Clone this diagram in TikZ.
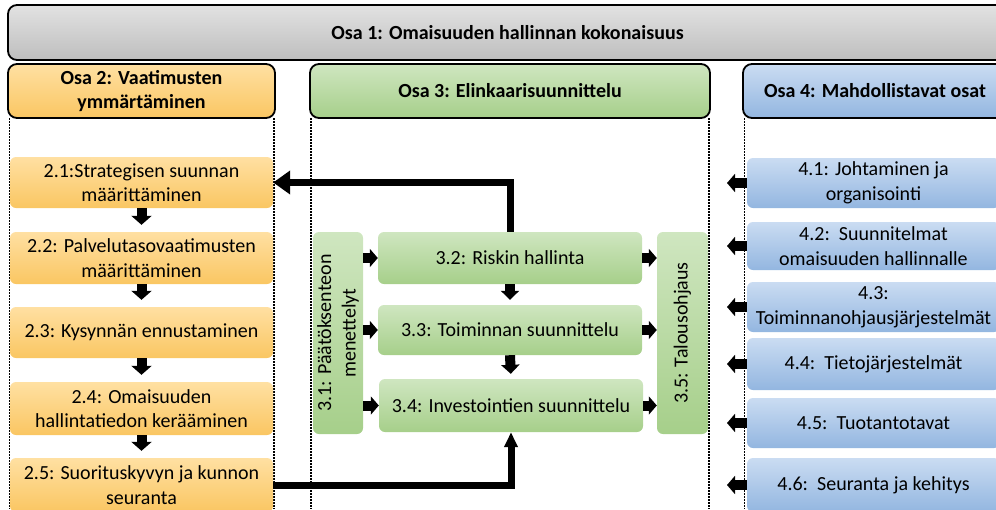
\documentclass[tikz,border=0pt]{standalone}
\usepackage{fontspec}
\setmainfont{Carlito}
\usetikzlibrary{arrows.meta}
\definecolor{or1}{HTML}{FFE0A2}
\definecolor{or2}{HTML}{FAC662}
\definecolor{gr1}{HTML}{CFE6C0}
\definecolor{gr2}{HTML}{A6CF8A}
\definecolor{bl1}{HTML}{CADCF2}
\definecolor{bl2}{HTML}{93B6E0}
\definecolor{gy1}{HTML}{E2E2E2}
\definecolor{gy2}{HTML}{BEBEBE}
\newcommand{\fsz}{\fontsize{20}{24.5}\selectfont}
\tikzset{
  base/.style={rounded corners=6pt, inner sep=0pt, align=center, font=\fsz},
  obox/.style={base, top color=or1, bottom color=or2},
  gbox/.style={base, top color=gr1, bottom color=gr2},
  bbox/.style={base, top color=bl1, bottom color=bl2},
  hdr/.style={rounded corners=9pt, draw=black, line width=1.8pt, inner sep=0pt, align=center, font=\fsz\bfseries},
  dots/.style={line width=1.7pt, dash pattern=on 2pt off 1pt},
  sarrow/.style={line width=10pt, -{Triangle[length=9pt,width=20pt]}},
  harrow/.style={line width=10pt, -{Triangle[length=8pt,width=18pt]}},
  bigline/.style={line width=7pt}
}
\begin{document}
\begin{tikzpicture}[x=1pt,y=-1pt]
\useasboundingbox (0,0) rectangle (996,509);
\clip (0,0) rectangle (996,509);
% banner and headers
\node[hdr, top color=gy1, bottom color=gy2, minimum width=999pt, minimum height=55pt] (osa1) at (507.5,32.5) {Osa 1: Omaisuuden hallinnan kokonaisuus};
\node[hdr, top color=or1, bottom color=or2, minimum width=267pt, minimum height=54pt] (osa2) at (141.5,91) {Osa 2: Vaatimusten\\ymmärtäminen};
\node[hdr, top color=gr1, bottom color=gr2, minimum width=400pt, minimum height=54pt] (osa3) at (510,91) {Osa 3: Elinkaarisuunnittelu};
\node[hdr, top color=bl1, bottom color=bl2, minimum width=264pt, minimum height=54pt] (osa4) at (875,91) {Osa 4: Mahdollistavat osat};
% dotted column borders
\coordinate (d2a) at (9.5,118); \coordinate (d2b) at (9.5,509);
\coordinate (d2c) at (274,118); \coordinate (d2d) at (274,509);
\coordinate (d3a) at (311,118); \coordinate (d3b) at (311,509);
\coordinate (d3c) at (709,118); \coordinate (d3d) at (709,509);
\coordinate (d4a) at (744.5,118); \coordinate (d4b) at (744.5,509);
\draw[dots] (d2a) -- (d2b);
\draw[dots] (d2c) -- (d2d);
\draw[dots] (d3a) -- (d3b);
\draw[dots] (d3c) -- (d3d);
\draw[dots] (d4a) -- (d4b);
% column 2
\node[obox, minimum width=263pt, minimum height=51pt] (n21) at (141.5,182.5) {2.1:Strategisen suunnan\\määrittäminen};
\node[obox, minimum width=263pt, minimum height=52pt] (n22) at (141.5,258) {2.2: Palvelutasovaatimusten\\määrittäminen};
\node[obox, minimum width=263pt, minimum height=51pt] (n23) at (141.5,332.5) {2.3: Kysynnän ennustaminen};
\node[obox, minimum width=263pt, minimum height=53pt] (n24) at (141.5,408.5) {2.4: Omaisuuden\\hallintatiedon kerääminen};
\node[obox, minimum width=263pt, minimum height=54pt] (n25) at (141.5,485) {2.5: Suorituskyvyn ja kunnon\\seuranta};
\draw[sarrow, shorten >=7pt] (n21.south) -- (n22.north);
\draw[sarrow, shorten >=7pt] (n22.south) -- (n23.north);
\draw[sarrow, shorten >=7pt] (n23.south) -- (n24.north);
\draw[sarrow, shorten >=7pt] (n24.south) -- (n25.north);
% column 3
\node[gbox, rotate=90, minimum width=202pt, minimum height=50pt] (n31) at (338,333) {3.1: Päätöksenteon\\menettelyt};
\node[gbox, minimum width=264pt, minimum height=52pt] (n32) at (510,258) {3.2: Riskin hallinta};
\node[gbox, minimum width=264pt, minimum height=50pt] (n33) at (510,330) {3.3: Toiminnan suunnittelu};
\node[gbox, minimum width=264pt, minimum height=53pt] (n34) at (511,405.5) {3.4: Investointien suunnittelu};
\node[gbox, rotate=90, minimum width=202pt, minimum height=51pt] (n35) at (682.5,333) {3.5: Talousohjaus};
\draw[harrow] (n31.south |- n32.west) -- (n32.west);
\draw[harrow] (n31.south |- n33.west) -- (n33.west);
\draw[harrow] (n31.south |- n34.west) -- (n34.west);
\draw[harrow] (n32.east) -- (n35.north |- n32.east);
\draw[harrow] (n33.east) -- (n35.north |- n33.east);
\draw[harrow] (n34.east) -- (n35.north |- n34.east);
\draw[line width=10pt, -{Triangle[length=9pt,width=18pt]}, shorten >=5pt] (n32.south) -- (n33.north);
\draw[line width=10pt, -{Triangle[length=9pt,width=18pt]}, shorten >=5pt] (n33.south) -- (n34.north);
% column 4
\node[bbox, minimum width=253pt, minimum height=50pt] (n41) at (873.5,183) {4.1: Johtaminen ja\\organisointi};
\node[bbox, minimum width=253pt, minimum height=48pt] (n42) at (873.5,246) {4.2:\ \ Suunnitelmat\\omaisuuden hallinnalle};
\node[bbox, minimum width=253pt, minimum height=50pt] (n43) at (873.5,307) {4.3:\\Toiminnanohjausjärjestelmät};
\node[bbox, minimum width=253pt, minimum height=52pt] (n44) at (873.5,364) {4.4:\ \ Tietojärjestelmät};
\node[bbox, minimum width=253pt, minimum height=50pt] (n45) at (873.5,423) {4.5:\ \ Tuotantotavat};
\node[bbox, minimum width=253pt, minimum height=54pt] (n46) at (873.5,485) {4.6:\ \ Seuranta ja kehitys};
\coordinate (t41) at (727,183);
\coordinate (t42) at (727,246);
\coordinate (t43) at (727,307);
\coordinate (t44) at (727,364);
\coordinate (t45) at (727,423);
\coordinate (t46) at (727,485);
\draw[harrow] (n41.west) -- (t41);
\draw[harrow] (n42.west) -- (t42);
\draw[harrow] (n43.west) -- (t43);
\draw[harrow] (n44.west) -- (t44);
\draw[harrow] (n45.west) -- (t45);
\draw[harrow] (n46.west) -- (t46);
% long connectors
\draw[bigline, -{Triangle[length=17pt,width=23pt]}] (n32.north) |- (n21.east);
\draw[bigline, -{Triangle[length=15pt,width=13pt]}] (n25.east) -| (n34.south);
\end{tikzpicture}
\end{document}
